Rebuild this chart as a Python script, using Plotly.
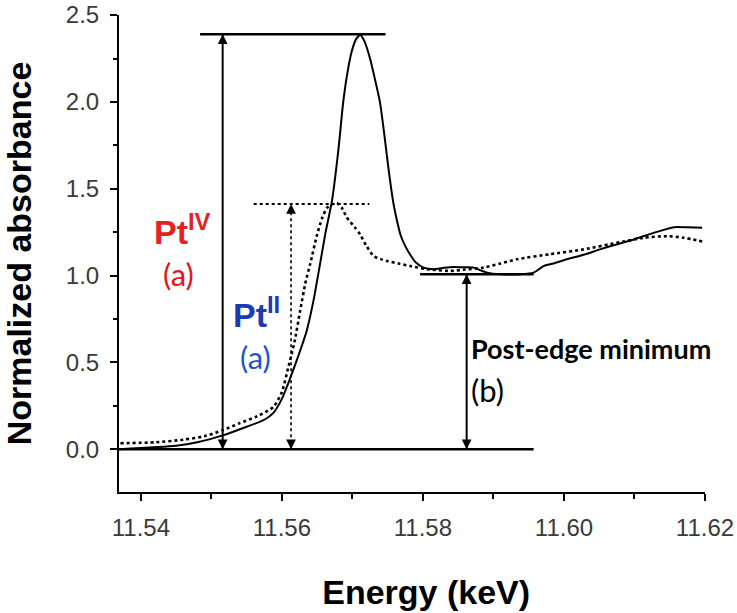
import plotly.graph_objects as go

# ---- data ----
pt4_energy = [11.5369, 11.545, 11.548, 11.5516, 11.555, 11.5575, 11.5588, 11.560, 11.5609, 11.562,
              11.5635, 11.5645, 11.5654, 11.5662, 11.5671, 11.568, 11.5687, 11.5693, 11.5699, 11.5705,
              11.5711, 11.5717, 11.5725, 11.5732, 11.5739, 11.5745, 11.5751, 11.5758, 11.5763, 11.5768,
              11.5775, 11.5782, 11.579, 11.5801, 11.5815, 11.583, 11.5843, 11.586, 11.5872, 11.5882,
              11.5891, 11.591, 11.5938, 11.5957, 11.5971, 11.5985, 11.6004, 11.6028, 11.6051, 11.6075,
              11.6099, 11.6127, 11.6156, 11.6175, 11.6196]
pt4_abs = [0.0, 0.02, 0.04, 0.08, 0.13, 0.17, 0.21, 0.29, 0.38, 0.50,
           0.68, 0.86, 1.065, 1.25, 1.43, 1.72, 2.0, 2.17, 2.29, 2.36,
           2.385, 2.35, 2.25, 2.13, 2.0, 1.82, 1.62, 1.42, 1.32, 1.237,
           1.17, 1.12, 1.075, 1.046, 1.037, 1.045, 1.05, 1.048, 1.046, 1.03,
           1.017, 1.008, 1.008, 1.017, 1.055, 1.07, 1.094, 1.12, 1.151, 1.18,
           1.208, 1.246, 1.279, 1.278, 1.275]

pt2_energy = [11.5371, 11.542, 11.546, 11.549, 11.5516, 11.554, 11.5565, 11.5588, 11.560, 11.5609,
              11.5618, 11.5626, 11.5634, 11.564, 11.565, 11.5657, 11.5664, 11.5671, 11.5678, 11.5685,
              11.5692, 11.5703, 11.5711, 11.572, 11.573, 11.574, 11.5749, 11.5765, 11.5782, 11.5806,
              11.5839, 11.586, 11.5886, 11.591, 11.5933, 11.598, 11.6028, 11.6075, 11.6113, 11.6146,
              11.617, 11.6198]
pt2_abs = [0.035, 0.04, 0.055, 0.075, 0.11, 0.15, 0.19, 0.244, 0.33, 0.47,
           0.62, 0.80, 0.97, 1.065, 1.237, 1.33, 1.39, 1.41, 1.418, 1.39,
           1.335, 1.28, 1.237, 1.17, 1.113, 1.095, 1.084, 1.07, 1.055, 1.037,
           1.027, 1.035, 1.046, 1.07, 1.094, 1.123, 1.151, 1.189, 1.218, 1.227,
           1.218, 1.195]

# reference levels (absorbance) and where they are measured (energy)
pt4_peak = 2.39
pt2_peak = 1.412
post_edge_min = 1.008
baseline = 0.0
pt4_arrow_e = 11.5516
pt2_arrow_e = 11.5613
post_arrow_e = 11.5862
pt4_level_span = [11.5484, 11.5747]
pt2_level_span = [11.556, 11.5724]
post_level_span = [11.5796, 11.5957]
baseline_span = [11.5369, 11.5957]

x_ticks = [11.54, 11.56, 11.58, 11.60, 11.62]
x_tick_text = ["11.54", "11.56", "11.58", "11.60", "11.62"]
y_ticks = [0.0, 0.5, 1.0, 1.5, 2.0, 2.5]
y_tick_text = ["0.0", "0.5", "1.0", "1.5", "2.0", "2.5"]

fig = go.Figure()

def hline(span, y, dash="solid", width=2.5):
    fig.add_trace(go.Scatter(x=span, y=[y, y], mode="lines",
                             line=dict(color="black", width=width, dash=dash),
                             showlegend=False, hoverinfo="skip"))

def vline(x, y0, y1, dash="solid", width=2):
    fig.add_trace(go.Scatter(x=[x, x], y=[y0, y1], mode="lines",
                             line=dict(color="black", width=width, dash=dash),
                             showlegend=False, hoverinfo="skip"))

# level lines
hline(baseline_span, baseline, width=2.5)
hline(pt4_level_span, pt4_peak, width=2.5)
hline(pt2_level_span, pt2_peak, dash="dot", width=2)
hline(post_level_span, post_edge_min, width=2.5)

# vertical measuring lines
vline(pt4_arrow_e, baseline, pt4_peak, width=2)
vline(pt2_arrow_e, baseline, pt2_peak, dash="dot", width=1.6)
vline(post_arrow_e, baseline, post_edge_min, width=2)

# spectra
fig.add_trace(go.Scatter(x=pt2_energy, y=pt2_abs, mode="lines", name="PtII",
                         line=dict(color="black", width=2.6, dash="dot", shape="spline", smoothing=0.6),
                         showlegend=False))
fig.add_trace(go.Scatter(x=pt4_energy, y=pt4_abs, mode="lines", name="PtIV",
                         line=dict(color="black", width=2, shape="spline", smoothing=0.6),
                         showlegend=False))

# arrow heads
for xe, y_top in [(pt4_arrow_e, pt4_peak), (pt2_arrow_e, pt2_peak), (post_arrow_e, post_edge_min)]:
    fig.add_annotation(x=xe, y=y_top, ax=0, ay=9, text="", showarrow=True,
                       arrowhead=2, arrowsize=1.3, arrowwidth=1.5, arrowcolor="black")
    fig.add_annotation(x=xe, y=baseline, ax=0, ay=-9, text="", showarrow=True,
                       arrowhead=2, arrowsize=1.3, arrowwidth=1.5, arrowcolor="black")

# labels
fig.add_annotation(x=11.5459, y=1.267, text="<b>Pt<sup>IV</sup></b>", showarrow=False,
                   font=dict(family="Liberation Sans", size=34, color="#e3231f"))
fig.add_annotation(x=11.5453, y=1.01, text="(a)", showarrow=False,
                   font=dict(family="Lato", size=31, color="#e8141a"))
fig.add_annotation(x=11.5564, y=0.786, text="<b>Pt<sup>II</sup></b>", showarrow=False,
                   font=dict(family="Liberation Sans", size=34, color="#1c3bb3"))
fig.add_annotation(x=11.5562, y=0.529, text="(a)", showarrow=False,
                   font=dict(family="Lato", size=31, color="#1f55cc"))
fig.add_annotation(x=11.5866, y=0.581, text="<b>Post-edge minimum</b>", showarrow=False,
                   xanchor="left", font=dict(family="Lato", size=27, color="black"))
fig.add_annotation(x=11.5866, y=0.34, text="(b)", showarrow=False,
                   xanchor="left", font=dict(family="Lato", size=31, color="black"))

axis_common = dict(showline=True, linecolor="black", linewidth=2, ticks="outside",
                   ticklen=7, tickwidth=2, tickcolor="black", showgrid=False, zeroline=False,
                   automargin=False, ticklabelstandoff=6, ticklabeloverflow="allow",
                   tickfont=dict(family="Liberation Sans", size=24, color="#3a3a3a"))

fig.update_xaxes(range=[11.5369, 11.62], tickvals=x_ticks, ticktext=x_tick_text,
                 minor=dict(dtick=0.01, ticks="outside", ticklen=5, tickwidth=2, tickcolor="black", tick0=11.53),
                 title=dict(text="&#160;&#160;&#160;<b>Energy (keV)</b>", standoff=40,
                            font=dict(family="Liberation Sans", size=34, color="black")),
                 **axis_common)
fig.update_yaxes(range=[-0.246, 2.5005], tickvals=y_ticks, ticktext=y_tick_text,
                 minor=dict(dtick=0.25, ticks="outside", ticklen=4, tickwidth=2, tickcolor="black", tick0=0),
                 title=dict(text="<b>Normalized absorbance</b>", standoff=50,
                            font=dict(family="Liberation Sans", size=34, color="black")),
                 **axis_common)

fig.update_layout(width=737, height=613, margin=dict(l=119, r=32, t=15, b=121),
                  plot_bgcolor="white", paper_bgcolor="white", showlegend=False)

fig.write_html("out.html", config={"displayModeBar": False},
               post_script="document.body.style.margin='0';document.body.style.overflow='hidden';")
